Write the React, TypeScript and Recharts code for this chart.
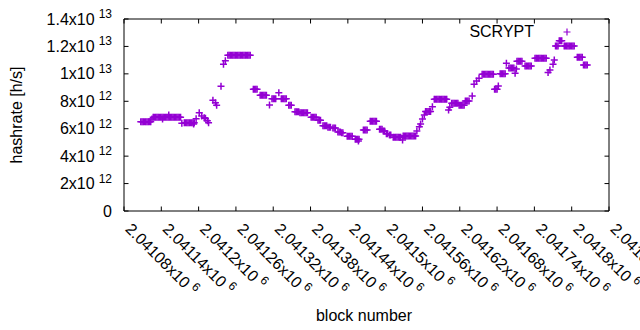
import React from 'react';
import { ScatterChart, Scatter, XAxis, YAxis, ReferenceArea, Legend } from 'recharts';

const seriesName = 'SCRYPT';
const COLOR = '#9400d3';
const FONT = '"Liberation Sans", Arial, sans-serif';

const xTicks = [2041080, 2041140, 2041200, 2041260, 2041320, 2041380, 2041440, 2041500, 2041560, 2041620, 2041680, 2041740, 2041800, 2041860];
const xTickMantissa = ['2.04108', '2.04114', '2.0412', '2.04126', '2.04132', '2.04138', '2.04144', '2.0415', '2.04156', '2.04162', '2.04168', '2.04174', '2.0418', '2.04186'];
const xTickExponent = '6';

const yTicks = [0, 2e12, 4e12, 6e12, 8e12, 1e13, 1.2e13, 1.4e13];
const yTickMantissa = ['0', '2', '4', '6', '8', '1', '1.2', '1.4'];
const yTickExponent = ['', '12', '12', '12', '12', '13', '13', '13'];

// [block number, hashrate in units of 10^12 h/s]
const samples: [number, number][] = [
  [2041107, 6.51], [2041109, 6.51], [2041111, 6.51], [2041113, 6.51], [2041115, 6.51], [2041117, 6.51], [2041119, 6.51], [2041121, 6.51], [2041123, 6.51],
  [2041125, 6.71],
  [2041127, 6.83], [2041129, 6.83], [2041131, 6.83], [2041133, 6.83], [2041135, 6.83], [2041137, 6.83], [2041139, 6.83], [2041141, 6.83], [2041143, 6.83], [2041145, 6.83], [2041147, 6.83], [2041149, 6.83],
  [2041151, 6.83], [2041153, 6.83], [2041155, 6.83], [2041157, 6.83], [2041159, 6.83], [2041161, 6.83], [2041163, 6.83], [2041165, 6.83], [2041167, 6.83], [2041169, 6.83], [2041171, 6.83],
  [2041142, 6.70], [2041152, 7.00],
  [2041173, 6.39],
  [2041177, 6.44], [2041179, 6.44], [2041181, 6.44], [2041183, 6.44], [2041185, 6.44], [2041187, 6.44], [2041189, 6.44], [2041191, 6.44], [2041193, 6.44], [2041192, 6.34],
  [2041196, 6.73], [2041201, 7.17], [2041205, 6.93], [2041209, 6.80], [2041211, 6.76], [2041214, 6.58], [2041216, 6.44],
  [2041223, 8.07], [2041227, 7.90], [2041229, 7.71], [2041236, 9.09], [2041240, 10.70], [2041243, 10.96],
  [2041247, 11.35], [2041249, 11.35], [2041251, 11.35], [2041253, 11.35], [2041255, 11.35], [2041257, 11.35], [2041259, 11.35], [2041261, 11.35], [2041263, 11.35], [2041265, 11.35],
  [2041267, 11.35], [2041269, 11.35], [2041271, 11.35], [2041273, 11.35], [2041275, 11.35], [2041277, 11.35], [2041279, 11.35], [2041281, 11.35], [2041283, 11.35],
  [2041288, 8.87], [2041290, 8.87], [2041292, 8.87], [2041294, 8.87],
  [2041299, 8.44], [2041301, 8.44], [2041303, 8.44], [2041305, 8.44], [2041307, 8.44], [2041309, 8.44],
  [2041314, 7.73],
  [2041318, 8.19], [2041320, 8.19], [2041322, 8.19], [2041324, 8.19],
  [2041329, 8.63],
  [2041333, 8.19], [2041335, 8.19], [2041337, 8.19], [2041339, 8.19], [2041341, 8.19],
  [2041345, 7.71], [2041347, 7.71], [2041349, 7.71],
  [2041355, 7.24], [2041357, 7.24], [2041359, 7.24], [2041361, 7.24],
  [2041363, 7.17], [2041365, 7.17], [2041367, 7.17], [2041369, 7.17], [2041371, 7.17], [2041373, 7.17], [2041375, 7.17],
  [2041381, 6.83], [2041383, 6.83], [2041385, 6.83], [2041387, 6.83], [2041389, 6.83],
  [2041392, 6.61], [2041394, 6.61], [2041396, 6.61],
  [2041400, 6.22], [2041402, 6.22], [2041404, 6.22], [2041406, 6.22],
  [2041408, 6.10], [2041410, 6.10], [2041412, 6.10],
  [2041416, 6.05], [2041418, 6.05], [2041420, 6.05],
  [2041424, 5.76], [2041426, 5.76], [2041428, 5.76], [2041430, 5.71], [2041432, 5.71],
  [2041439, 5.45], [2041441, 5.45], [2041443, 5.45], [2041445, 5.45], [2041447, 5.45],
  [2041452, 5.23], [2041454, 5.23], [2041456, 5.23], [2041458, 5.23], [2041457, 5.10],
  [2041465, 5.91], [2041467, 5.91], [2041469, 5.91], [2041471, 5.91],
  [2041476, 6.54], [2041478, 6.54], [2041480, 6.54], [2041482, 6.54], [2041484, 6.54], [2041486, 6.54],
  [2041491, 5.96], [2041493, 5.96], [2041495, 5.96], [2041497, 5.83], [2041499, 5.83], [2041502, 5.64], [2041504, 5.64], [2041507, 5.54], [2041509, 5.54],
  [2041513, 5.37], [2041515, 5.37], [2041517, 5.37], [2041519, 5.37], [2041521, 5.37], [2041523, 5.37], [2041525, 5.37], [2041528, 5.18],
  [2041529, 5.47], [2041531, 5.47], [2041533, 5.47], [2041535, 5.47], [2041537, 5.47], [2041539, 5.47], [2041541, 5.47], [2041543, 5.47], [2041545, 5.47], [2041547, 5.47], [2041549, 5.47],
  [2041551, 5.83], [2041555, 6.15], [2041557, 6.34], [2041560, 6.71], [2041563, 7.00],
  [2041565, 7.25], [2041567, 7.25], [2041569, 7.25], [2041571, 7.25], [2041573, 7.25], [2041576, 7.60],
  [2041579, 8.14], [2041581, 8.14], [2041583, 8.14], [2041585, 8.14], [2041587, 8.14], [2041589, 8.14], [2041591, 8.14], [2041593, 8.14], [2041595, 8.14], [2041597, 8.14], [2041599, 8.14],
  [2041602, 7.36], [2041604, 7.56],
  [2041607, 7.85], [2041609, 7.85], [2041611, 7.85], [2041613, 7.85], [2041615, 7.85], [2041617, 7.85],
  [2041619, 7.71], [2041621, 7.71], [2041623, 7.71], [2041625, 7.71], [2041627, 7.71],
  [2041629, 8.02], [2041631, 8.02], [2041633, 8.02], [2041635, 8.02],
  [2041640, 8.39], [2041643, 9.24], [2041647, 9.48], [2041651, 9.68],
  [2041656, 9.97], [2041658, 9.97], [2041660, 9.97], [2041662, 9.97], [2041664, 9.97], [2041666, 9.97], [2041668, 9.97], [2041670, 9.97], [2041672, 9.97], [2041674, 9.97],
  [2041676, 8.87], [2041678, 8.87], [2041680, 8.87], [2041682, 9.11],
  [2041685, 10.00], [2041687, 10.00], [2041689, 10.00], [2041691, 10.00], [2041693, 10.00],
  [2041695, 10.77],
  [2041699, 10.42], [2041701, 10.42], [2041703, 10.42], [2041705, 10.42], [2041707, 10.42],
  [2041709, 10.04], [2041711, 10.35],
  [2041712, 10.92], [2041714, 10.92], [2041716, 10.92], [2041718, 10.92], [2041720, 10.92],
  [2041725, 10.57], [2041727, 10.57], [2041729, 10.57], [2041731, 10.57], [2041733, 10.57], [2041735, 10.57],
  [2041741, 11.13], [2041743, 11.13], [2041745, 11.13], [2041747, 11.13], [2041749, 11.13], [2041751, 11.13], [2041753, 11.13], [2041755, 11.13], [2041757, 11.13], [2041759, 11.13],
  [2041762, 10.09], [2041765, 10.28], [2041770, 10.70], [2041772, 11.01],
  [2041774, 12.03], [2041776, 12.03], [2041778, 12.03],
  [2041780, 12.42], [2041782, 12.42], [2041784, 12.42],
  [2041788, 12.03], [2041790, 12.03], [2041792, 12.03], [2041794, 12.03], [2041796, 12.03], [2041798, 12.03], [2041800, 12.03], [2041802, 12.03], [2041804, 12.03],
  [2041809, 11.21], [2041811, 11.21], [2041813, 11.21], [2041815, 11.21], [2041817, 11.21],
  [2041819, 10.65], [2041821, 10.65], [2041823, 10.65], [2041825, 10.65],
];

const data = samples.map(([block, h]) => ({ block, hashrate: h * 1e12 }));

const PLOT_TOP = 19;
const PLOT_LEFT = 124;
const PLOT_RIGHT = 609;
const TICK_LEN = 4.5;

const plusPath = (cx: number, cy: number) => `M${cx - 3.5},${cy}h7M${cx},${cy - 3.5}v7`;

const PlusShape = (props: any) => {
  const { cx, cy } = props;
  if (cx == null || cy == null) return null;
  return <path d={plusPath(cx, cy)} stroke={COLOR} strokeWidth={1.5} fill="none" />;
};

const XTick = (props: any) => {
  const { x, y, payload } = props;
  const i = xTicks.indexOf(payload.value);
  const ox = x + 0.5;
  const oy = y + 19;
  return (
    <g>
      <line x1={x} y1={y} x2={x} y2={y - TICK_LEN} stroke="#000" strokeWidth={1} />
      <line x1={x} y1={PLOT_TOP} x2={x} y2={PLOT_TOP + TICK_LEN} stroke="#000" strokeWidth={1} />
      <text x={ox} y={oy} transform={`rotate(45 ${ox} ${oy})`} fontSize={16} fontFamily={FONT} fill="#000">
        <tspan>{xTickMantissa[i]}x10</tspan>
        <tspan fontSize={12} dx={4} dy={-6.5}>{xTickExponent}</tspan>
      </text>
    </g>
  );
};

const YTick = (props: any) => {
  const { y, payload } = props;
  const i = yTicks.indexOf(payload.value);
  const exp = yTickExponent[i];
  return (
    <g>
      <line x1={PLOT_LEFT} y1={y} x2={PLOT_LEFT + TICK_LEN} y2={y} stroke="#000" strokeWidth={1} />
      <line x1={PLOT_RIGHT} y1={y} x2={PLOT_RIGHT - TICK_LEN} y2={y} stroke="#000" strokeWidth={1} />
      <text x={112} y={y + 5.5} textAnchor="end" fontSize={16} fontFamily={FONT} fill="#000">
        <tspan>{exp ? `${yTickMantissa[i]}x10` : yTickMantissa[i]}</tspan>
        {exp ? <tspan fontSize={12} dx={4} dy={-6.5}>{exp}</tspan> : null}
      </text>
    </g>
  );
};

const XLabel = () => (
  <text x={364} y={321} textAnchor="middle" fontSize={16} fontFamily={FONT} fill="#000">block number</text>
);

const YLabel = () => (
  <text x={22} y={115} transform="rotate(-90 22 115)" textAnchor="middle" fontSize={16} fontFamily={FONT} fill="#000">hashrate [h/s]</text>
);

const LegendContent = () => (
  <svg width={640} height={50} style={{ position: 'absolute', left: 0, top: 0, overflow: 'visible' }}>
    <text x={534} y={37} textAnchor="end" fontSize={16} fontFamily={FONT} fill="#000">{seriesName}</text>
    <path d={plusPath(567, 32)} stroke={COLOR} strokeWidth={1.2} fill="none" />
  </svg>
);

export default function App() {
  return (
    <div style={{ position: 'absolute', left: 0, top: 0, width: 640, height: 330, background: '#fff' }}>
      <ScatterChart width={640} height={330} margin={{ top: 19, right: 31, bottom: 0, left: 0 }}>
        <XAxis
          type="number"
          dataKey="block"
          domain={[2041080, 2041860]}
          ticks={xTicks}
          interval={0}
          allowDataOverflow
          tick={<XTick />}
          tickLine={false}
          axisLine={false}
          tickSize={0}
          tickMargin={0}
          height={119}
          label={<XLabel />}
        />
        <YAxis
          type="number"
          dataKey="hashrate"
          domain={[0, 1.4e13]}
          ticks={yTicks}
          interval={0}
          allowDataOverflow
          tick={<YTick />}
          tickLine={false}
          axisLine={false}
          tickSize={0}
          tickMargin={0}
          width={124}
          label={<YLabel />}
        />
        <ReferenceArea x1={2041080} x2={2041860} y1={0} y2={1.4e13} fill="none" stroke="#000" strokeWidth={1} />
        <Scatter name={seriesName} data={data} shape={<PlusShape />} isAnimationActive={false} />
        <Legend
          verticalAlign="middle"
          layout="horizontal"
          wrapperStyle={{ position: 'absolute', left: 0, top: 0, width: 640, height: 0 }}
          content={<LegendContent />}
        />
      </ScatterChart>
    </div>
  );
}
